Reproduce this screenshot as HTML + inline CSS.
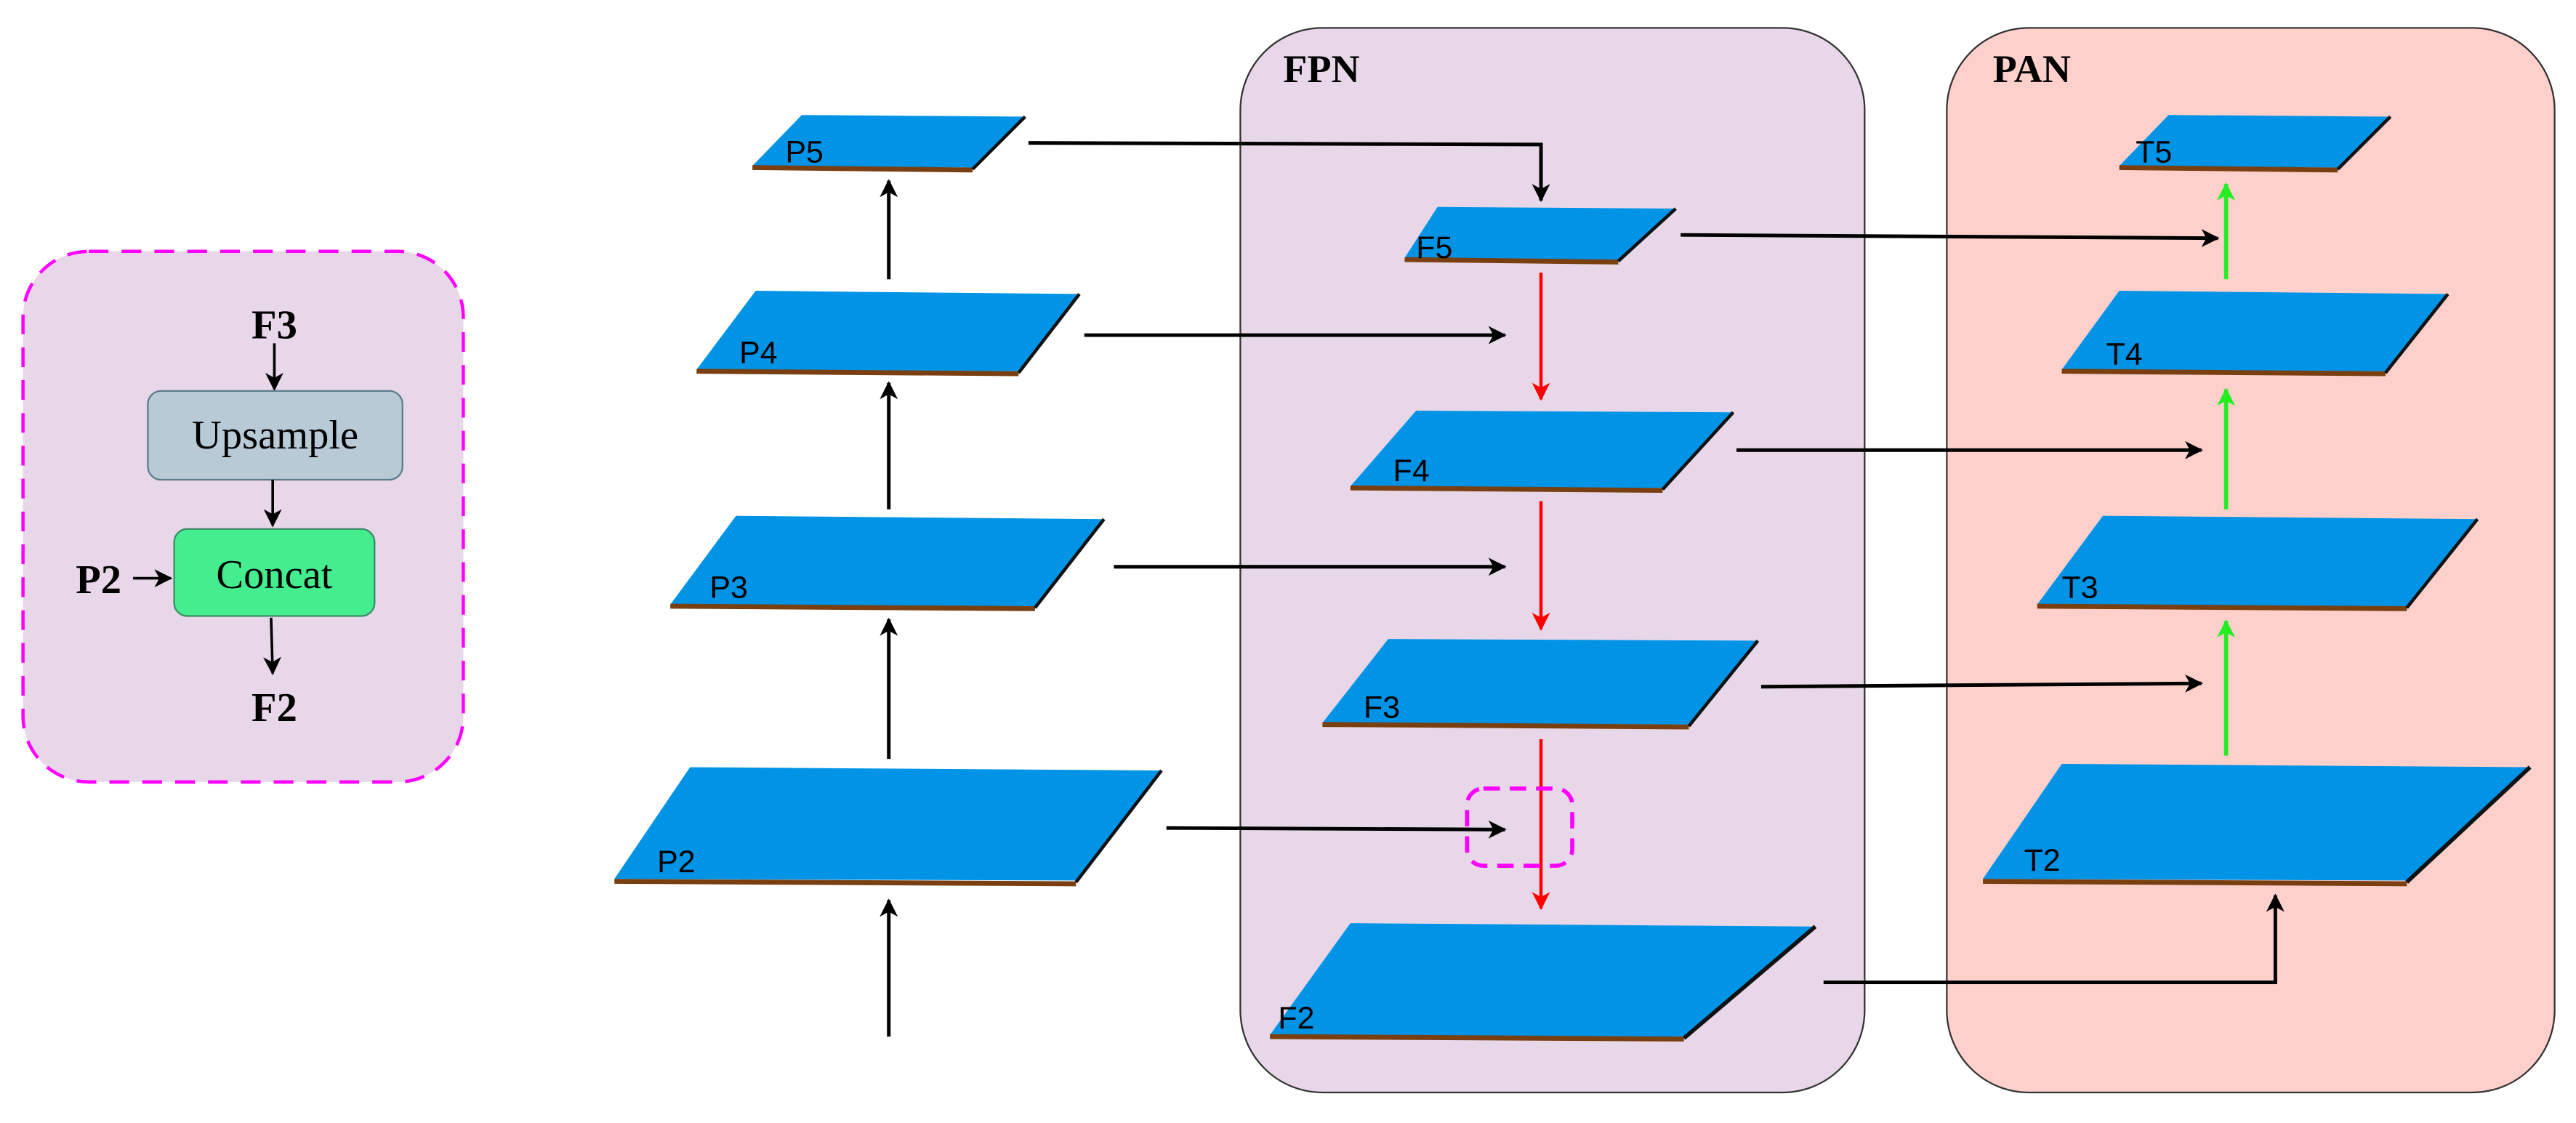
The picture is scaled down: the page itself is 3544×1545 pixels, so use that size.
<!DOCTYPE html>
<html><head><meta charset="utf-8"><style>
html,body{margin:0;padding:0;background:#fff;}
svg{display:block;}
.lab{font-family:"Liberation Sans",sans-serif;font-size:19px;fill:#000;}
.b{font-family:"Liberation Serif",serif;font-weight:bold;fill:#000;}
.s{font-family:"Liberation Serif",serif;fill:#000;}
</style></head><body>
<svg width="3544" height="1545" viewBox="0 0 1568 683.6" preserveAspectRatio="none" xmlns="http://www.w3.org/2000/svg">
<defs>
<marker id="ak" markerWidth="11" markerHeight="11" refX="10" refY="5.5" orient="auto" markerUnits="userSpaceOnUse"><path d="M0,0 L11,5.5 L0,11 L3,5.5 z" fill="#000"/></marker>
<marker id="ar" markerWidth="11" markerHeight="11" refX="10" refY="5.5" orient="auto" markerUnits="userSpaceOnUse"><path d="M0,0 L11,5.5 L0,11 L3,5.5 z" fill="#ff0000"/></marker>
<marker id="ag" markerWidth="11" markerHeight="11" refX="10" refY="5.5" orient="auto" markerUnits="userSpaceOnUse"><path d="M0,0 L11,5.5 L0,11 L3,5.5 z" fill="#22ee22"/></marker>
</defs>

<rect x="14" y="153" width="268" height="323" rx="40" fill="#e7d7e8" stroke="#ff00ff" stroke-width="2" stroke-dasharray="12,8"/>
<text x="167" y="206" class="b" font-size="25" text-anchor="middle">F3</text>
<line x1="167" y1="209" x2="167" y2="237" stroke="#000" stroke-width="1.6" marker-end="url(#ak)"/>
<rect x="90" y="238" width="155" height="54" rx="8" fill="#b8cad6" stroke="#5b7c8c" stroke-width="1"/>
<text x="167.5" y="273" class="s" font-size="25" text-anchor="middle">Upsample</text>
<line x1="166" y1="292" x2="166" y2="320" stroke="#000" stroke-width="1.6" marker-end="url(#ak)"/>
<rect x="106" y="322" width="122" height="53" rx="8" fill="#44ee8f" stroke="#3a8a6a" stroke-width="1"/>
<text x="167" y="358" class="s" font-size="25" text-anchor="middle">Concat</text>
<text x="60" y="361" class="b" font-size="25" text-anchor="middle">P2</text>
<line x1="81" y1="352" x2="104" y2="352" stroke="#000" stroke-width="1.6" marker-end="url(#ak)"/>
<line x1="165" y1="376" x2="166" y2="410" stroke="#000" stroke-width="1.6" marker-end="url(#ak)"/>
<text x="167" y="439" class="b" font-size="25" text-anchor="middle">F2</text>

<rect x="755" y="17" width="380" height="648" rx="50" fill="#e7d7e8" stroke="#333" stroke-width="1"/>
<text x="781" y="50" class="b" font-size="24">FPN</text>
<rect x="1185" y="17" width="370" height="648" rx="50" fill="#fdd0cc" stroke="#333" stroke-width="1"/>
<text x="1213" y="50" class="b" font-size="24">PAN</text>

<polygon points="488,70 624,71 592,102 458,101" fill="#0093e6"/>
<line x1="458" y1="102" x2="592" y2="103.5" stroke="#7a3f10" stroke-width="3"/>
<line x1="624" y1="71" x2="592" y2="103" stroke="#111" stroke-width="2"/>
<text x="478" y="99" class="lab">P5</text>
<polygon points="460,177 657,179 620,226 424,225" fill="#0093e6"/>
<line x1="424" y1="226" x2="620" y2="227.5" stroke="#7a3f10" stroke-width="3"/>
<line x1="657" y1="179" x2="620" y2="227" stroke="#111" stroke-width="2"/>
<text x="450" y="221" class="lab">P4</text>
<polygon points="448,314 672,316 630,369 408,368" fill="#0093e6"/>
<line x1="408" y1="369" x2="630" y2="370.5" stroke="#7a3f10" stroke-width="3"/>
<line x1="672" y1="316" x2="630" y2="370" stroke="#111" stroke-width="2"/>
<text x="432" y="364" class="lab">P3</text>
<polygon points="420,467 707,469 655,536 374,535" fill="#0093e6"/>
<line x1="374" y1="536.5" x2="655" y2="538" stroke="#7a3f10" stroke-width="3"/>
<line x1="707" y1="469" x2="655" y2="537" stroke="#111" stroke-width="2"/>
<text x="400" y="531" class="lab">P2</text>

<polygon points="875,126 1020,127 985,158 855,157" fill="#0093e6"/>
<line x1="855" y1="158" x2="985" y2="159.5" stroke="#7a3f10" stroke-width="3"/>
<line x1="1020" y1="127" x2="985" y2="159" stroke="#111" stroke-width="2"/>
<text x="862" y="157" class="lab">F5</text>
<polygon points="862,250 1055,251 1012,297 822,296" fill="#0093e6"/>
<line x1="822" y1="297" x2="1012" y2="298.5" stroke="#7a3f10" stroke-width="3"/>
<line x1="1055" y1="251" x2="1012" y2="298" stroke="#111" stroke-width="2"/>
<text x="848" y="293" class="lab">F4</text>
<polygon points="845,389 1070,390 1028,441 805,440" fill="#0093e6"/>
<line x1="805" y1="441" x2="1028" y2="442.5" stroke="#7a3f10" stroke-width="3"/>
<line x1="1070" y1="390" x2="1028" y2="442" stroke="#111" stroke-width="2"/>
<text x="830" y="437" class="lab">F3</text>
<polygon points="822,562 1105,564 1025,631 773,630" fill="#0093e6"/>
<line x1="773" y1="631" x2="1025" y2="632.5" stroke="#7a3f10" stroke-width="3"/>
<line x1="1105" y1="564" x2="1025" y2="632" stroke="#111" stroke-width="2.5"/>
<text x="778" y="626" class="lab">F2</text>

<polygon points="1320,70 1455,71 1423,102 1290,101" fill="#0093e6"/>
<line x1="1290" y1="102" x2="1423" y2="103.5" stroke="#7a3f10" stroke-width="3"/>
<line x1="1455" y1="71" x2="1423" y2="103" stroke="#111" stroke-width="2"/>
<text x="1300" y="99" class="lab">T5</text>
<polygon points="1290,177 1490,179 1452,226 1255,225" fill="#0093e6"/>
<line x1="1255" y1="226" x2="1452" y2="227.5" stroke="#7a3f10" stroke-width="3"/>
<line x1="1490" y1="179" x2="1452" y2="227" stroke="#111" stroke-width="2"/>
<text x="1282" y="222" class="lab">T4</text>
<polygon points="1280,314 1508,316 1465,369 1240,368" fill="#0093e6"/>
<line x1="1240" y1="369" x2="1465" y2="370.5" stroke="#7a3f10" stroke-width="3"/>
<line x1="1508" y1="316" x2="1465" y2="370" stroke="#111" stroke-width="2"/>
<text x="1255" y="364" class="lab">T3</text>
<polygon points="1255,465 1540,467 1465,536 1207,535" fill="#0093e6"/>
<line x1="1207" y1="536.5" x2="1465" y2="538" stroke="#7a3f10" stroke-width="3"/>
<line x1="1540" y1="467" x2="1465" y2="537" stroke="#111" stroke-width="2.5"/>
<text x="1232" y="530" class="lab">T2</text>

<g stroke="#000" stroke-width="2.2" fill="none">
<line x1="541" y1="170" x2="541" y2="110" marker-end="url(#ak)"/>
<line x1="541" y1="310" x2="541" y2="233" marker-end="url(#ak)"/>
<line x1="541" y1="462" x2="541" y2="377" marker-end="url(#ak)"/>
<line x1="541" y1="631" x2="541" y2="548" marker-end="url(#ak)"/>
<polyline points="626,87 938,88 938,122" marker-end="url(#ak)"/>
<line x1="660" y1="204" x2="916" y2="204" marker-end="url(#ak)"/>
<line x1="678" y1="345" x2="916" y2="345" marker-end="url(#ak)"/>
<line x1="710" y1="504" x2="916" y2="505" marker-end="url(#ak)"/>
<line x1="1023" y1="143" x2="1350" y2="145" marker-end="url(#ak)"/>
<line x1="1057" y1="274" x2="1340" y2="274" marker-end="url(#ak)"/>
<line x1="1072" y1="418" x2="1340" y2="416" marker-end="url(#ak)"/>
<polyline points="1110,598 1385,598 1385,545" marker-end="url(#ak)"/>
</g>
<g stroke="#ff0000" stroke-width="2" fill="none">
<line x1="938" y1="166" x2="938" y2="243" marker-end="url(#ar)"/>
<line x1="938" y1="305" x2="938" y2="383" marker-end="url(#ar)"/>
<line x1="938" y1="450" x2="938" y2="553" marker-end="url(#ar)"/>
</g>
<rect x="893" y="480" width="64" height="47" rx="10" fill="none" stroke="#ff00ff" stroke-width="2.5" stroke-dasharray="10,6"/>
<g stroke="#22ee22" stroke-width="2.5" fill="none">
<line x1="1355" y1="170" x2="1355" y2="112" marker-end="url(#ag)"/>
<line x1="1355" y1="310" x2="1355" y2="237" marker-end="url(#ag)"/>
<line x1="1355" y1="460" x2="1355" y2="378" marker-end="url(#ag)"/>
</g>
</svg>
</body></html>
